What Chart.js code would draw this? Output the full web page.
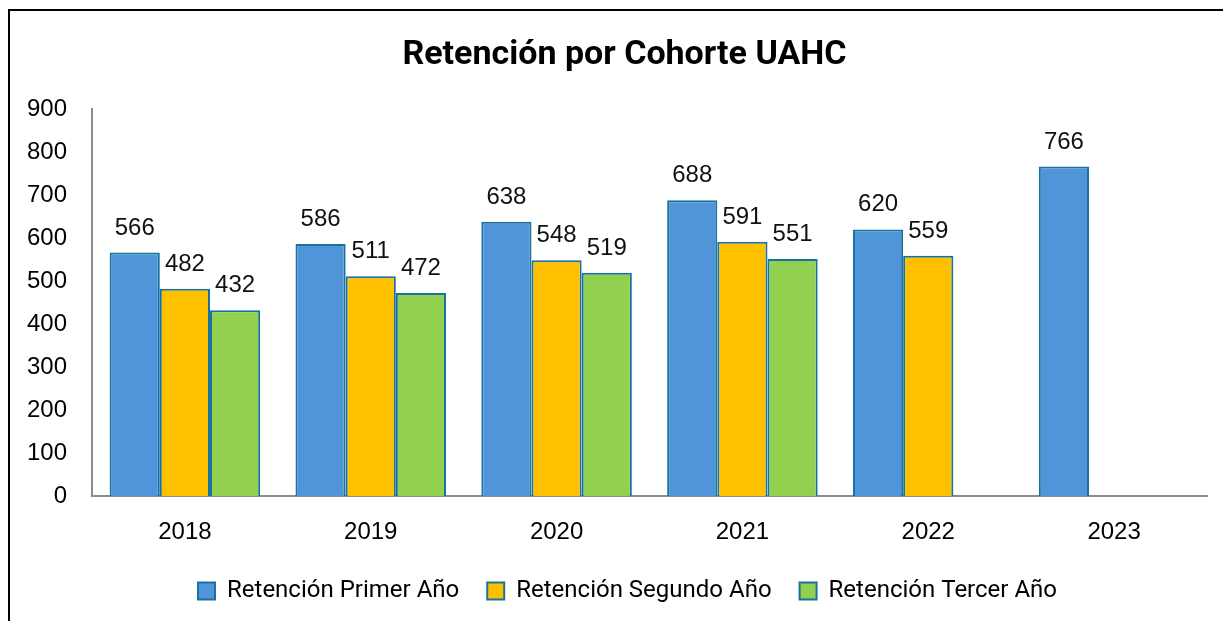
<!DOCTYPE html>
<html>
<head>
<meta charset="utf-8">
<script src="https://cdn.jsdelivr.net/npm/chart.js@4/dist/chart.umd.min.js"></script>
<style>
  html, body { margin: 0; padding: 0; background: #fff; overflow: hidden; }
  #wrap { position: absolute; left: 0; top: 0; width: 1223px; height: 621px; }
</style>
</head>
<body>
<div id="wrap"><canvas id="c" width="1223" height="621"></canvas></div>
<script>
const categories = ['2018', '2019', '2020', '2021', '2022', '2023'];
const primerAno = [566, 586, 638, 688, 620, 766];
const segundoAno = [482, 511, 548, 591, 559, null];
const tercerAno = [432, 472, 519, 551, null, null];
const seriesNames = ['Retención Primer Año', 'Retención Segundo Año', 'Retención Tercer Año'];
const yTicks = [0, 100, 200, 300, 400, 500, 600, 700, 800, 900];
const titleText = 'Retención por Cohorte UAHC';

const borderCol = '#18729E';
const numFont = '"Liberation Sans", Arial, sans-serif';

const frame = {
  id: 'frame',
  beforeDraw(chart) {
    const ctx = chart.ctx;
    ctx.save();
    ctx.fillStyle = '#fff';
    ctx.fillRect(0, 0, chart.width, chart.height);
    ctx.strokeStyle = '#000';
    ctx.lineWidth = 2;
    ctx.beginPath();
    ctx.moveTo(9, chart.height);
    ctx.lineTo(9, 10);
    ctx.lineTo(chart.width, 10);
    ctx.stroke();
    ctx.restore();
  }
};

// the original frame is centred a little right of the picture: shift title and legend boxes
const boxShift = {
  id: 'boxShift',
  afterLayout(chart) {
    if (chart.titleBlock) { chart.titleBlock.left += 21; chart.titleBlock.right += 21; }
    if (chart.legend) { chart.legend.left += 24; chart.legend.right += 24; }
  }
};

const valueLabels = {
  id: 'valueLabels',
  afterDatasetsDraw(chart) {
    const ctx = chart.ctx;
    ctx.save();
    ctx.font = '24px ' + numFont;
    ctx.fillStyle = '#111';
    ctx.textAlign = 'center';
    ctx.textBaseline = 'alphabetic';
    chart.data.datasets.forEach((ds, i) => {
      const meta = chart.getDatasetMeta(i);
      meta.data.forEach((bar, j) => {
        const v = ds.data[j];
        if (v === null || v === undefined) return;
        ctx.fillText(String(v), bar.x, bar.y - 18);
      });
    });
    ctx.restore();
  }
};

new Chart(document.getElementById('c'), {
  type: 'bar',
  data: {
    labels: categories,
    datasets: [
      { label: seriesNames[0], data: primerAno, backgroundColor: '#5095DA', borderColor: borderCol, borderWidth: 2 },
      { label: seriesNames[1], data: segundoAno, backgroundColor: '#FFC000', borderColor: borderCol, borderWidth: 2 },
      { label: seriesNames[2], data: tercerAno, backgroundColor: '#92D050', borderColor: borderCol, borderWidth: 2 }
    ]
  },
  options: {
    responsive: false,
    animation: false,
    devicePixelRatio: 1,
    layout: { padding: { left: 0, right: 16, top: 0, bottom: 8 } },
    datasets: { bar: { categoryPercentage: 0.81, barPercentage: 1.0 } },
    plugins: {
      title: {
        display: true,
        text: titleText,
        color: '#000',
        font: { family: 'Roboto, "Liberation Sans", sans-serif', size: 34, weight: 'bold' },
        padding: { top: 35, bottom: 33.2 }
      },
      legend: {
        position: 'bottom',
        labels: {
          color: '#000',
          font: { family: 'Roboto, "Liberation Sans", sans-serif', size: 24 },
          boxWidth: 17,
          boxHeight: 17,
          padding: 28
        }
      },
      tooltip: { enabled: false }
    },
    scales: {
      x: {
        afterFit(scale) { scale.height = 55; },
        grid: { display: false },
        border: { display: true, color: '#8C8C8C', width: 2 },
        ticks: { color: '#000', font: { family: numFont, size: 24 }, padding: 14 }
      },
      y: {
        min: 0,
        max: 900,
        afterBuildTicks(scale) { scale.ticks = yTicks.map(v => ({ value: v })); },
        afterFit(scale) { scale.width = 92; },
        grid: { display: false },
        border: { display: true, color: '#8C8C8C', width: 2 },
        ticks: { color: '#000', font: { family: numFont, size: 24 }, padding: 17 }
      }
    }
  },
  plugins: [frame, boxShift, valueLabels]
});
</script>
</body>
</html>
